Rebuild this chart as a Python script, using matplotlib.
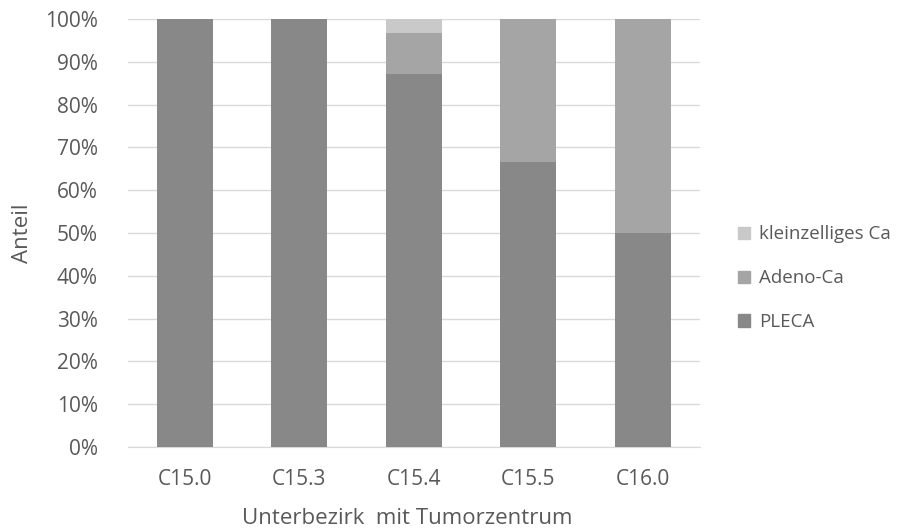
import matplotlib
matplotlib.use("Agg")
import matplotlib.pyplot as plt
from matplotlib.ticker import PercentFormatter
from matplotlib.patches import Patch

categories = ["C15.0", "C15.3", "C15.4", "C15.5", "C16.0"]
pleca = [100.0, 100.0, 87.1, 66.7, 50.0]
adeno = [0.0, 0.0, 9.7, 33.3, 50.0]
kleinzellig = [0.0, 0.0, 3.2, 0.0, 0.0]

colors = {"PLECA": "#888888", "Adeno-Ca": "#a5a5a5", "kleinzelliges Ca": "#c9c9c9"}
text_color = "#595959"

plt.rcParams["font.family"] = ["Open Sans", "DejaVu Sans"]

fig = plt.figure(figsize=(9.06, 5.28), dpi=100)
ax = fig.add_axes([0.141, 0.1534, 0.6316, 0.8106])

x = range(len(categories))
w = 0.49
ax.bar(x, pleca, w, color=colors["PLECA"], zorder=3)
ax.bar(x, adeno, w, bottom=pleca, color=colors["Adeno-Ca"], zorder=3)
bottom2 = [a + b for a, b in zip(pleca, adeno)]
ax.bar(x, kleinzellig, w, bottom=bottom2, color=colors["kleinzelliges Ca"], zorder=3)

ax.set_xlim(-0.5, len(categories) - 0.5)
ax.set_ylim(0, 100)
ax.set_yticks(range(0, 101, 10))
ax.yaxis.set_major_formatter(PercentFormatter(decimals=0))
ax.set_xticks(list(x))
ax.set_xticklabels(categories)
ax.grid(axis="y", color="#d9d9d9", linewidth=1.0, zorder=0)
ax.tick_params(length=0, labelsize=15, colors=text_color)
ax.tick_params(axis="y", pad=21.5)
ax.tick_params(axis="x", pad=16)
for s in ["top", "right", "left"]:
    ax.spines[s].set_visible(False)
ax.spines["bottom"].set_color("#d9d9d9")

ax.set_xlabel("Unterbezirk  mit Tumorzentrum", fontsize=16, color=text_color)
ax.set_ylabel("Anteil", fontsize=16, color=text_color)
ax.xaxis.set_label_coords(0.488, -0.142)
ax.yaxis.set_label_coords(-0.165, 0.5)

names = ["kleinzelliges Ca", "Adeno-Ca", "PLECA"]
handles = [Patch(color=colors[k]) for k in names]
fig.legend(handles, names, loc="center left",
           bbox_to_anchor=(0.8146, 0.473), frameon=False, fontsize=13.5, labelcolor=text_color,
           handlelength=0.62, handleheight=0.62, handletextpad=0.5, labelspacing=1.38,
           borderpad=0, borderaxespad=0)

fig.savefig("out.png", dpi=100)
